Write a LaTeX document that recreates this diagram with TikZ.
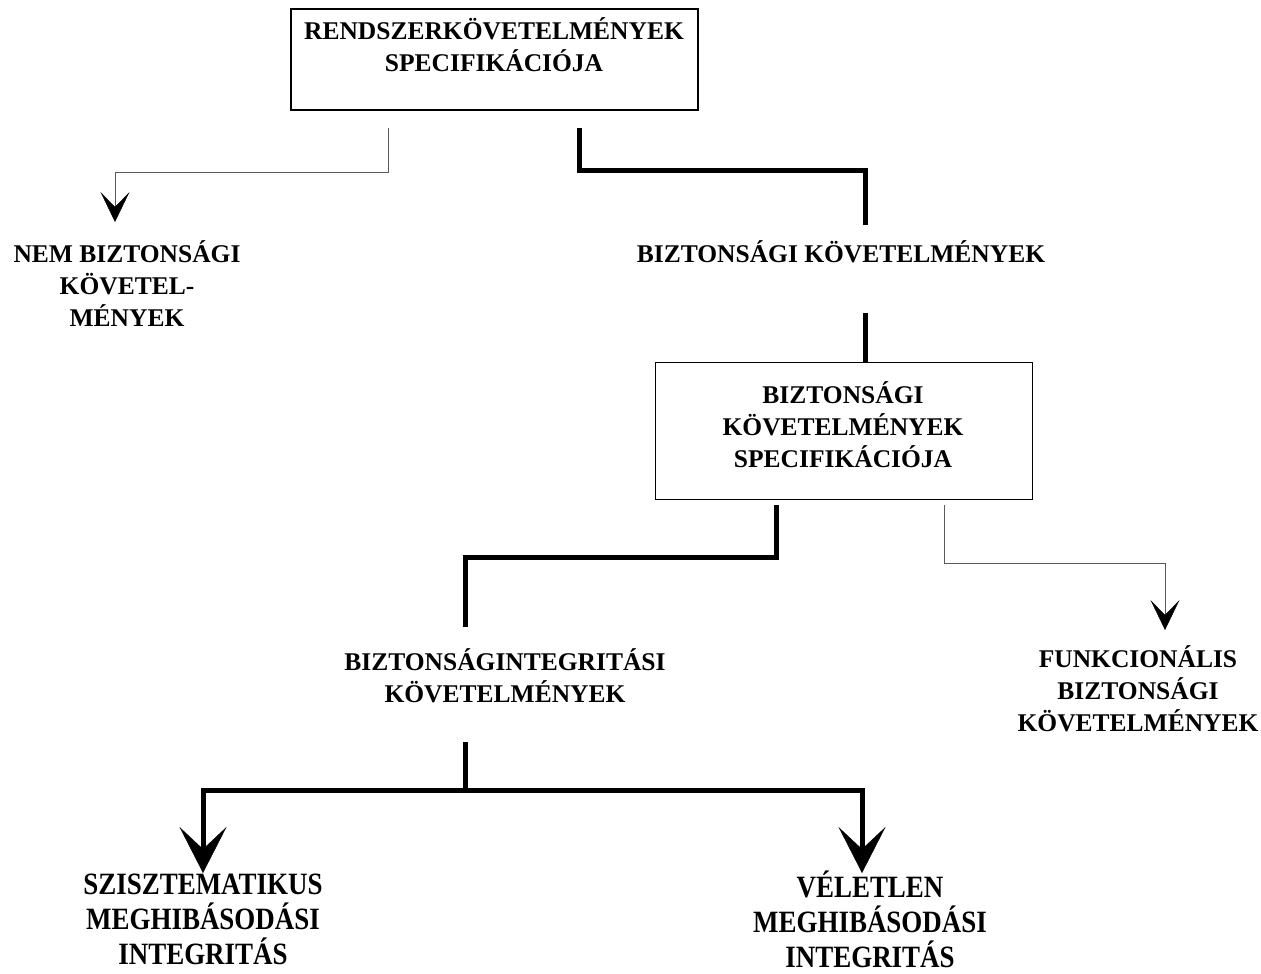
\documentclass[tikz,border=0pt]{standalone}
\usepackage{fontspec}
\setmainfont{Liberation Serif}
\newfontfamily\narrowserif{Liberation Serif}[FakeStretch=0.87]
\usetikzlibrary{arrows.meta}
\tikzset{
  lbl/.style={font=\bfseries\fontsize{25.5}{32}\selectfont, align=center, inner sep=0pt},
  lblnarrow/.style={font=\narrowserif\bfseries\fontsize{31}{35}\selectfont, align=center, inner sep=0pt},
  frame/.style={draw, line width=1.8pt, inner sep=0pt, anchor=north west},
  thinline/.style={line width=1pt, black!65},
  thickline/.style={line width=5pt, line join=miter},
  tipthin/.style={-{Stealth[length=30pt, width=29pt, inset=15pt, black, line width=0.4pt]}},
  tipthick/.style={-{Stealth[length=46pt, width=47pt, inset=22pt, line width=0.4pt]}},
}
\begin{document}
\begin{tikzpicture}[x=1pt, y=-1pt]
  \useasboundingbox (0,0) rectangle (1261,974);

  % boxes
  \node[frame, minimum width=407pt, minimum height=101pt] (b1) at (290,8) {};
  \node[frame, line width=1.4pt, minimum width=377pt, minimum height=137pt] (b2) at (655,362) {};

  % labels
  \node[lbl] (t1) at (494,45) {RENDSZERKÖVETELMÉNYEK\\SPECIFIKÁCIÓJA};
  \node[lbl] (nb) at (127,284) {NEM BIZTONSÁGI\\KÖVETEL-\\MÉNYEK};
  \node[lbl] (bk) at (841,252) {BIZTONSÁGI KÖVETELMÉNYEK};
  \node[lbl] (t2) at (843,425) {BIZTONSÁGI\\KÖVETELMÉNYEK\\SPECIFIKÁCIÓJA};
  \node[lbl] (bi) at (505,676) {BIZTONSÁGINTEGRITÁSI\\KÖVETELMÉNYEK};
  \node[lbl] (fb) at (1138,689) {FUNKCIONÁLIS\\BIZTONSÁGI\\KÖVETELMÉNYEK};
  \node[lblnarrow] (sm) at (203,919) {SZISZTEMATIKUS\\MEGHIBÁSODÁSI\\INTEGRITÁS};
  \node[lblnarrow] (vm) at (870,919) {VÉLETLEN\\MEGHIBÁSODÁSI\\INTEGRITÁS};

  % connector ends
  \coordinate (s1) at (388,128);
  \coordinate (e1) at (115,222);
  \coordinate (s2) at (579,128);
  \coordinate (e2) at (865,225);
  \coordinate (s3) at (865,313);
  \coordinate (s4) at (776,505);
  \coordinate (e4) at (465,627);
  \coordinate (s5) at (944,505);
  \coordinate (e5) at (1165,630);
  \coordinate (s6) at (465,742);
  \coordinate (e6) at (203,873);
  \coordinate (e7) at (862,873);

  % connectors
  \draw[thinline, tipthin] (s1) -- ++(0,44) -| (e1);
  \draw[thickline] (s2) -- ++(0,42) -| (e2);
  \draw[thickline] (s3) -- (s3 |- b2.north);
  \draw[thickline] (s4) -- ++(0,52) -| (e4);
  \draw[thinline, tipthin] (s5) -- ++(0,58) -| (e5);
  \draw[thickline] (s6) -- ++(0,48) coordinate (j);
  \draw[thickline, tipthick] (j) -| (e6);
  \draw[thickline, tipthick] (j) -| (e7);
\end{tikzpicture}
\end{document}
